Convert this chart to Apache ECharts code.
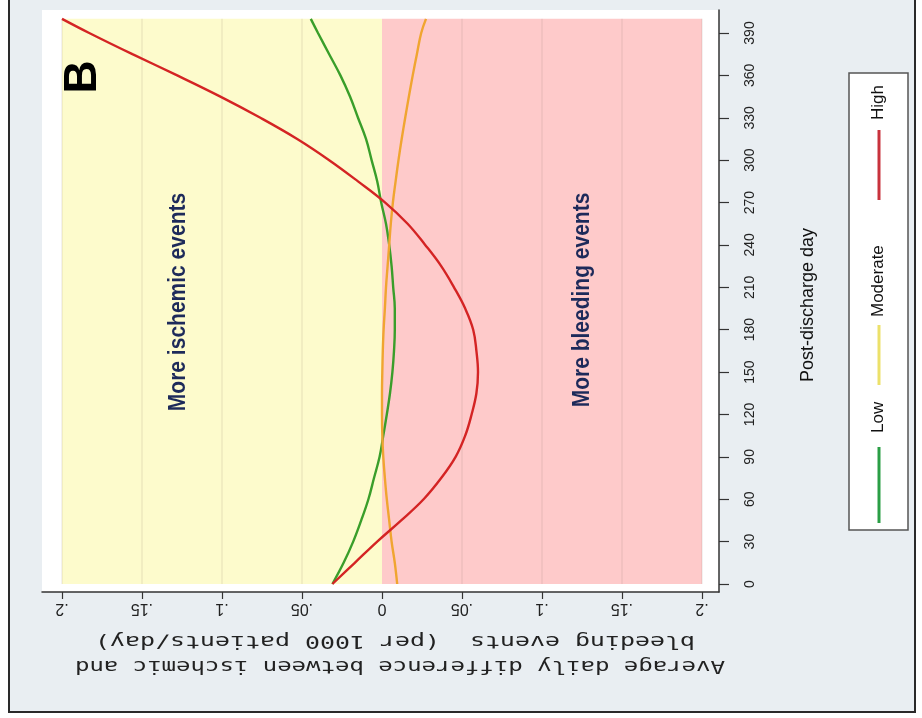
<!DOCTYPE html>
<html>
<head>
<meta charset="utf-8">
<script src="https://cdn.jsdelivr.net/npm/echarts@6/dist/echarts.min.js"></script>
<style>
html,body{margin:0;padding:0;background:#fff;}
#chart{width:922px;height:718px;}
</style>
</head>
<body>
<div id="chart"></div>
<script>
// ---- data ----
const days = [0,15,30,45,60,75,90,105,120,135,150,165,180,195,210,225,240,255,270,285,300,315,330,345,360,375,390,400];
const lowRisk = [0.031,0.024,0.018,0.013,0.0085,0.005,0.0015,-0.0008,-0.003,-0.005,-0.0065,-0.0075,-0.008,-0.008,-0.007,-0.006,-0.0045,-0.0025,0.0005,0.003,0.0065,0.010,0.015,0.020,0.026,0.033,0.040,0.0445];
const moderateRisk = [-0.0095,-0.008,-0.006,-0.0045,-0.003,-0.0018,-0.0008,-0.0002,0.0,0.0,-0.0002,-0.0005,-0.001,-0.0018,-0.0025,-0.0035,-0.0045,-0.0055,-0.0068,-0.0085,-0.0103,-0.0123,-0.0145,-0.0168,-0.0192,-0.0218,-0.0245,-0.0275];
const highRisk = [0.031,0.017,0.003,-0.012,-0.026,-0.037,-0.046,-0.052,-0.056,-0.059,-0.060,-0.059,-0.057,-0.052,-0.045,-0.037,-0.027,-0.016,-0.002,0.015,0.033,0.053,0.076,0.101,0.128,0.156,0.183,0.200];
const seriesNames = ['Low','Moderate','High'];
const dayTicks = [0,30,60,90,120,150,180,210,240,270,300,330,360,390];
const diffTicks = [-0.2,-0.15,-0.1,-0.05,0,0.05,0.1,0.15,0.2];
const gridValues = [-0.2,-0.15,-0.1,-0.05,0.05,0.1,0.15,0.2];
const shadeDays = [0,400];
const regionLabels = ['More ischemic events','More bleeding events'];
const panelLetter = 'B';
const yTitle = 'Post-discharge day';
const xTitleLines = ['Average daily difference between ischemic and','bleeding events  (per 1000 patients/day)'];

// ---- styles ----
const lineColors = ['#3a9e2a','#f0a530','#d42424'];
const legendColors = ['#2a9e45','#ece16a','#c8323c'];

const chart = echarts.init(document.getElementById('chart'), null, {renderer:'canvas'});

function fmt(v){
  if (Math.abs(v) < 1e-9) return '0';
  return Math.abs(v).toFixed(2).replace(/0$/,'').replace(/^0/,'');
}

const series = [];
seriesNames.forEach((name,i)=>{
  const vals = [lowRisk, moderateRisk, highRisk][i];
  series.push({
    name, type:'line', smooth:0.4, showSymbol:false, symbol:'none',
    data: days.map((d,j)=>[vals[j], d]),
    lineStyle:{color:lineColors[i], width:2.4},
    itemStyle:{color:lineColors[i]},
    z: 5 + i
  });
});
// shaded regions
series.push({
  type:'line', data:[], silent:true,
  markArea:{
    silent:true,
    data:[
      [{xAxis:0.2, yAxis:shadeDays[0], itemStyle:{color:'#fdfbcc'}},{xAxis:0, yAxis:shadeDays[1]}],
      [{xAxis:0, yAxis:shadeDays[0], itemStyle:{color:'#fecaca'}},{xAxis:-0.2, yAxis:shadeDays[1]}]
    ]
  },
  z:1
});
// faint grid lines
gridValues.forEach(v=>{
  series.push({
    type:'line', silent:true, showSymbol:false, symbol:'none',
    data:[[v,shadeDays[0]],[v,shadeDays[1]]],
    lineStyle:{color:'rgba(120,110,100,0.13)', width:1.5},
    z:2
  });
});

const gridL = 42, gridR = 719, gridT = 10, gridB = 592;
// pixel mapping: 0 at x=382, 1 unit = 1600px; day 0 at y=584, 1.41282 px/day
const xMax = (382 - gridL)/1600, xMin = -(gridR - 382)/1600;
const yMin = -(gridB - 584)/1.41282, yMax = (584 - gridT)/1.41282;

// measure text for title stretching
const cv = document.createElement('canvas').getContext('2d');
function stretch(text, font, target){ cv.font = font; return target / cv.measureText(text).width; }
const titleFont = '17px "DejaVu Sans Mono"';

const graphic = [
  {type:'rect', z:-10, shape:{x:9,y:-4,width:906,height:716}, style:{fill:'#e9eef2', stroke:'#2a2a2a', lineWidth:2}},
  {type:'text', z:10, x:83, y:77, rotation:Math.PI/2, style:{text:panelLetter, font:'bold 46px "Liberation Sans"', fill:'#000', align:'center', verticalAlign:'middle'}},
  {type:'text', z:10, x:178, y:302, rotation:Math.PI/2, scaleY:1.15, style:{text:regionLabels[0], font:'bold 21px "Liberation Sans Narrow", "Liberation Sans"', fill:'#1d2a5a', align:'center', verticalAlign:'middle'}},
  {type:'text', z:10, x:582, y:300, rotation:Math.PI/2, scaleY:1.15, style:{text:regionLabels[1], font:'bold 21px "Liberation Sans Narrow", "Liberation Sans"', fill:'#1d2a5a', align:'center', verticalAlign:'middle'}},
  {type:'text', z:10, x:808, y:305, rotation:Math.PI/2, style:{text:yTitle, font:'18px "Liberation Sans"', fill:'#111', align:'center', verticalAlign:'middle'}},
  {type:'text', z:10, x:400, y:665, rotation:Math.PI, scaleX:stretch(xTitleLines[0], titleFont, 650), style:{text:xTitleLines[0], font:titleFont, fill:'#222', align:'center', verticalAlign:'middle'}},
  {type:'text', z:10, x:395, y:640, rotation:Math.PI, scaleX:stretch(xTitleLines[1], titleFont, 600), style:{text:xTitleLines[1], font:titleFont, fill:'#222', align:'center', verticalAlign:'middle'}}
];
// legend (rotated)
const legLines = [[7,83],[145,205],[330,400]];
const legTexts = [97,213,410];
const legChildren = [{type:'rect', shape:{x:0,y:-29,width:457,height:59}, style:{fill:'#fff', stroke:'#555', lineWidth:1.5}}];
seriesNames.forEach((n,i)=>{
  legChildren.push({type:'line', shape:{x1:legLines[i][0],y1:1,x2:legLines[i][1],y2:1}, style:{stroke:legendColors[i], lineWidth:3}});
  legChildren.push({type:'text', x:legTexts[i], y:0, style:{text:n, font:'17px "Liberation Sans"', fill:'#111', align:'left', verticalAlign:'middle'}});
});
graphic.push({type:'group', x:878, y:530, rotation:Math.PI/2, z:10, children:legChildren});

chart.setOption({
  animation:false,
  backgroundColor:'transparent',
  grid:{left:gridL, top:gridT, width:gridR-gridL, height:gridB-gridT, show:true, backgroundColor:'#ffffff', borderWidth:0},
  xAxis:{
    type:'value', inverse:true, min:xMin, max:xMax,
    axisLine:{show:true, onZero:false, lineStyle:{color:'#333', width:1.5}},
    axisTick:{show:true, customValues:diffTicks, length:7, lineStyle:{color:'#333', width:1.2}},
    axisLabel:{show:true, customValues:diffTicks, rotate:180, formatter:fmt, margin:8, fontFamily:'Liberation Sans', fontSize:16, color:'#222'},
    splitLine:{show:false}
  },
  yAxis:{
    type:'value', position:'right', min:yMin, max:yMax,
    axisLine:{show:true, onZero:false, lineStyle:{color:'#333', width:1.5}},
    axisTick:{show:true, customValues:dayTicks, length:10, lineStyle:{color:'#333', width:1.2}},
    axisLabel:{show:true, customValues:dayTicks, rotate:90, margin:24, fontFamily:'Liberation Sans', fontSize:14, color:'#222'},
    splitLine:{show:false}
  },
  graphic: graphic,
  series: series
});
</script>
</body>
</html>
